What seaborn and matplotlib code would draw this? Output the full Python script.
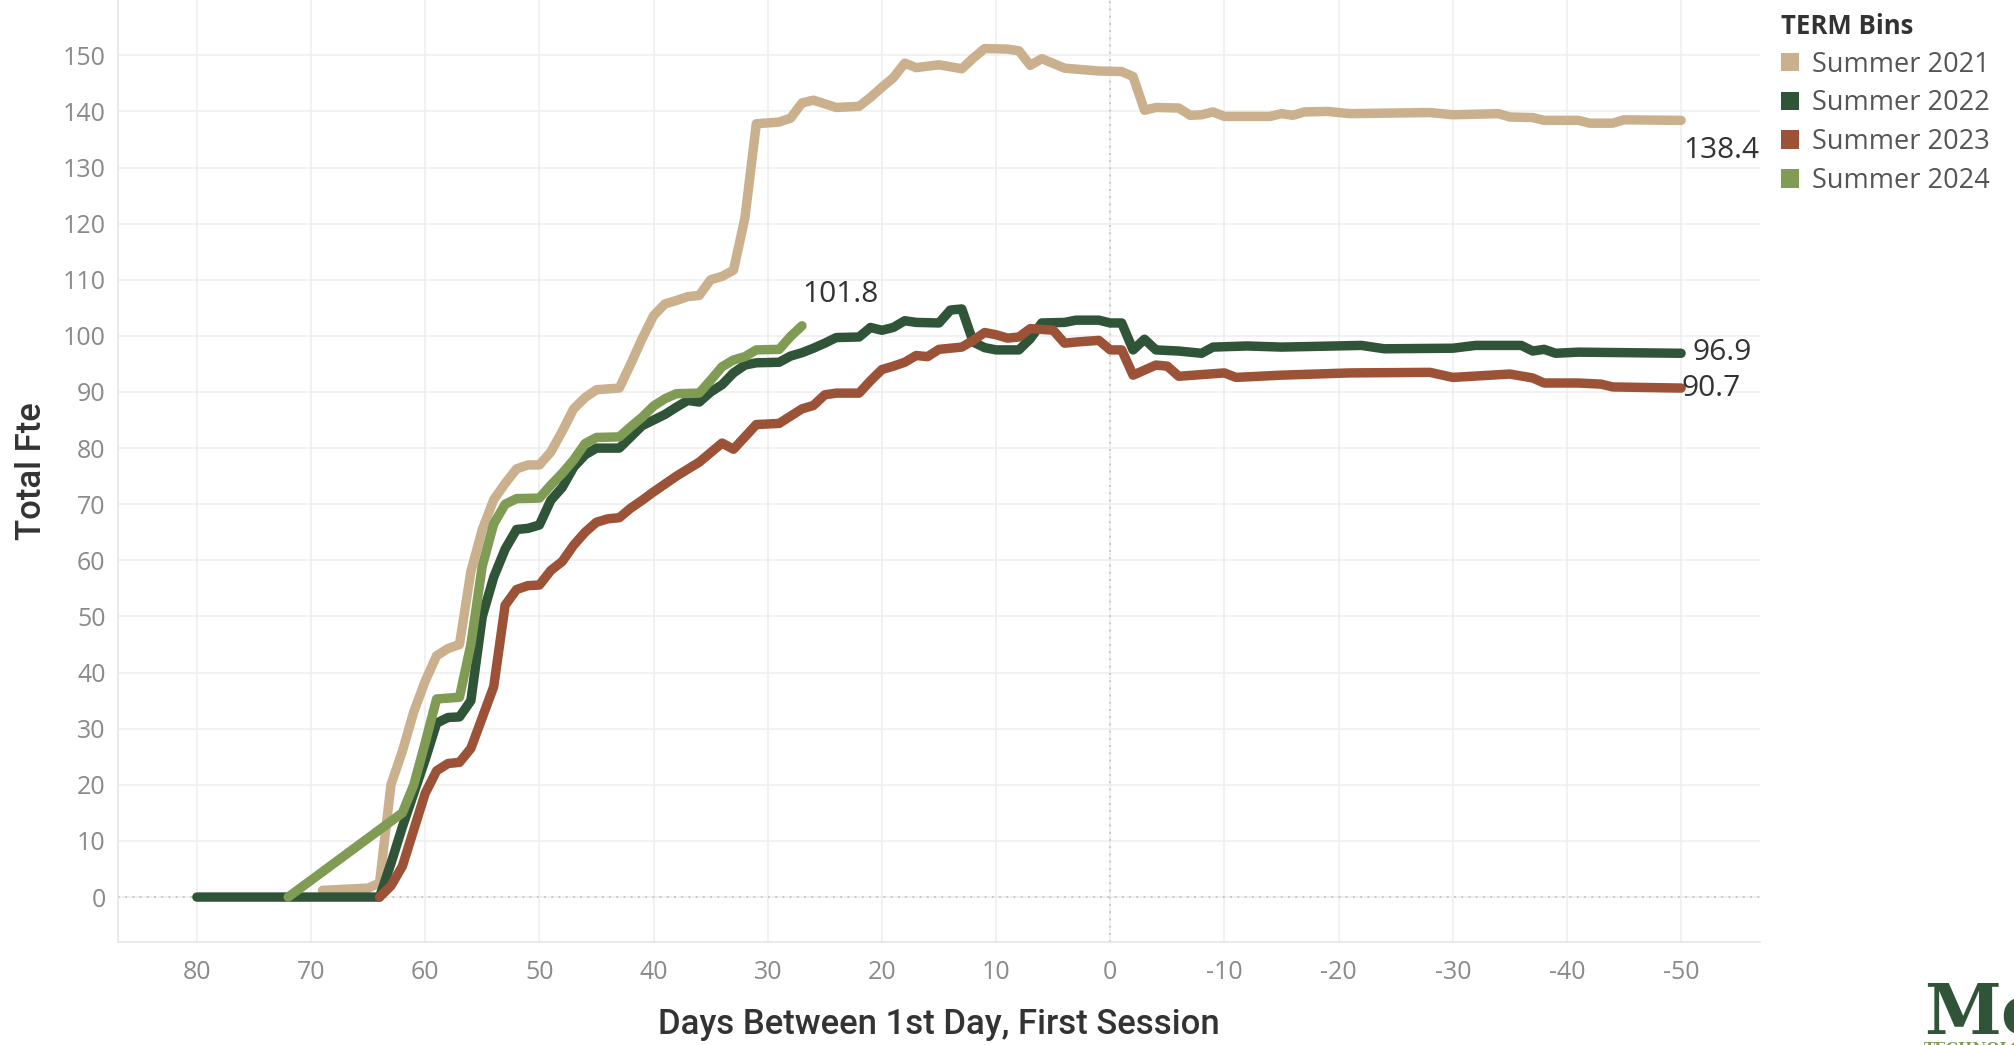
import numpy as np
import pandas as pd
import seaborn as sns
import matplotlib.pyplot as plt
from matplotlib.patches import Patch

# ---- data ----
terms = ['Summer 2021', 'Summer 2022', 'Summer 2023', 'Summer 2024']
colors = ['#cbb08e', '#2f5438', '#9c5236', '#7f9b54']

days_2021 = [69, 65, 64, 63, 62, 61, 60, 59, 58, 57, 56, 55, 54, 53, 52, 51, 50, 49, 48, 47,
             46, 45, 43, 42, 41, 40, 39, 38, 37, 36, 35, 34, 33, 32, 31, 29, 28, 27, 26, 24,
             22, 21, 20, 19, 18, 17, 15, 13, 12, 11, 9, 8, 7, 6, 4, 1, -1, -2, -3, -4,
             -6, -7, -8, -9, -10, -14, -15, -16, -17, -19, -21, -28, -30, -34, -35, -37, -38, -41,
             -42, -44, -45, -50]
fte_2021 = [1.2, 1.6, 2.5, 20.0, 26.0, 33.0, 38.5, 43.0, 44.3, 45.0, 58.0, 65.5, 70.8, 73.7, 76.3, 77.0, 77.0, 79.3, 83.0, 87.0,
            89.0, 90.4, 90.7, 95.0, 99.5, 103.6, 105.7, 106.3, 107.0, 107.2, 110.0, 110.6, 111.7, 121.0, 137.8, 138.1, 138.8, 141.5, 142.0, 140.7,
            140.9, 142.5, 144.3, 146.0, 148.6, 147.8, 148.3, 147.6, 149.5, 151.2, 151.1, 150.8, 148.2, 149.4, 147.7, 147.2, 147.1, 146.2, 140.2, 140.7,
            140.6, 139.3, 139.4, 139.9, 139.1, 139.1, 139.6, 139.3, 139.9, 140.0, 139.6, 139.8, 139.4, 139.6, 139.0, 138.9, 138.4, 138.4,
            137.9, 137.9, 138.5, 138.4]

days_2022 = [80, 64, 63, 62, 61, 60, 59, 58, 57, 56, 55, 54, 53, 52, 51, 50, 49, 48, 47, 46,
             45, 43, 42, 41, 40, 39, 38, 37, 36, 35, 34, 33, 32, 31, 29, 28, 27, 26, 25, 24,
             22, 21, 20, 19, 18, 17, 15, 14, 13, 12, 11, 10, 8, 7, 6, 4, 3, 1, 0, -1,
             -2, -3, -4, -6, -8, -9, -12, -15, -22, -24, -30, -32, -36, -37, -38, -39, -41, -50]
fte_2022 = [0.0, 0.0, 6.0, 12.5, 18.5, 24.5, 31.0, 32.0, 32.1, 35.0, 50.0, 57.0, 62.0, 65.5, 65.7, 66.3, 70.7, 73.0, 76.6, 78.8,
            80.0, 80.0, 82.0, 84.0, 85.0, 86.0, 87.3, 88.5, 88.2, 90.0, 91.3, 93.4, 94.8, 95.2, 95.3, 96.4, 97.0, 97.8, 98.7, 99.7,
            99.8, 101.5, 101.0, 101.5, 102.7, 102.4, 102.3, 104.6, 104.8, 98.9, 97.9, 97.5, 97.5, 99.5, 102.3, 102.4, 102.8, 102.8, 102.3, 102.3,
            97.5, 99.4, 97.5, 97.3, 96.9, 98.0, 98.2, 98.0, 98.3, 97.7, 97.8, 98.3, 98.3, 97.3, 97.6, 96.9, 97.1, 96.9]

days_2023 = [64, 63, 62, 61, 60, 59, 58, 57, 56, 55, 54, 53, 52, 51, 50, 49, 48, 47, 46, 45,
             44, 43, 42, 41, 40, 38, 36, 34, 33, 32, 31, 29, 28, 27, 26, 25, 24, 22, 21, 20,
             19, 18, 17, 16, 15, 13, 12, 11, 10, 9, 8, 7, 5, 4, 3, 1, 0, -1, -2, -3,
             -4, -5, -6, -10, -11, -15, -21, -28, -30, -35, -37, -38, -41, -43, -44, -50]
fte_2023 = [0.0, 2.0, 5.5, 12.0, 18.5, 22.5, 23.8, 24.0, 26.5, 32.0, 37.5, 52.0, 54.8, 55.5, 55.6, 58.2, 59.8, 62.7, 65.0, 66.8,
            67.4, 67.6, 69.3, 70.7, 72.2, 75.0, 77.5, 80.9, 79.8, 82.0, 84.2, 84.4, 85.7, 87.0, 87.6, 89.5, 89.8, 89.8, 92.0, 94.0,
            94.6, 95.3, 96.5, 96.3, 97.6, 98.0, 99.2, 100.6, 100.2, 99.6, 99.8, 101.3, 101.0, 98.7, 98.9, 99.2, 97.5, 97.5, 93.0, 93.9,
            94.8, 94.6, 92.8, 93.4, 92.6, 93.0, 93.4, 93.5, 92.6, 93.2, 92.5, 91.6, 91.6, 91.4, 90.9, 90.7]

days_2024 = [72, 62, 61, 60, 59, 57, 56, 55, 54, 53, 52, 50, 49, 48, 47, 46, 45, 43, 42, 41,
             40, 39, 38, 36, 35, 34, 33, 32, 31, 29, 28, 27]
fte_2024 = [0.0, 15.0, 20.0, 27.5, 35.3, 35.6, 45.0, 59.0, 66.5, 70.0, 71.0, 71.1, 73.4, 75.5, 77.9, 80.8, 81.9, 82.0, 83.8, 85.5,
            87.5, 88.8, 89.7, 89.8, 92.1, 94.5, 95.7, 96.3, 97.5, 97.6, 99.9, 101.8]

end_labels = ['138.4', '96.9', '90.7', '101.8']

frames = []
for term, d, v in zip(terms, [days_2021, days_2022, days_2023, days_2024],
                      [fte_2021, fte_2022, fte_2023, fte_2024]):
    frames.append(pd.DataFrame({'day': d, 'fte': v, 'term': term}))
data = pd.concat(frames, ignore_index=True)

sns.set_theme(style='white')
plt.rcParams['font.family'] = ['Open Sans', 'DejaVu Sans']
plt.rcParams['axes.unicode_minus'] = False

fig = plt.figure(figsize=(20.15, 10.45), dpi=100)
ax = fig.add_axes([0.0586, 0.0986, 0.8148, 0.9014])

# reference lines at zero
ax.axhline(0, color='#c4c4c4', ls=(0, (1, 3)), lw=1.3, zorder=1)
ax.axvline(0, color='#c4c4c4', ls=(0, (1, 3)), lw=1.3, zorder=1)

sns.lineplot(data=data, x='day', y='fte', hue='term', hue_order=terms, palette=colors,
             estimator=None, sort=True, linewidth=6.8, legend=False, ax=ax,
             solid_capstyle='round', solid_joinstyle='round', zorder=3)

ax.set_xlim(86.9, -56.9)
ax.set_ylim(-8, 159.85)
ax.set_xticks(np.arange(80, -51, -10))
ax.set_yticks(np.arange(0, 151, 10))
ax.grid(True, color='#ededed', lw=1.1, zorder=0)
ax.set_axisbelow(True)
ax.tick_params(axis='both', length=0, labelcolor='#8a8a8a', labelsize=18)
ax.tick_params(axis='y', pad=9)
ax.tick_params(axis='x', pad=13)
for side in ['top', 'right']:
    ax.spines[side].set_visible(False)
for side in ['left', 'bottom']:
    ax.spines[side].set_color('#e3e3e3')
    ax.spines[side].set_linewidth(1.1)

ax.set_xlabel('Days Between 1st Day, First Session', fontsize=25, color='#333333',
              family=['Roboto', 'DejaVu Sans'], weight='medium')
ax.set_ylabel('Total Fte', fontsize=25, color='#333333',
              family=['Roboto', 'DejaVu Sans'], weight='medium')
ax.xaxis.set_label_coords(0.5, -0.088)
ax.xaxis.label.set_va('center')
ax.yaxis.set_label_coords(-0.053, 0.5)
ax.yaxis.label.set_va('center')

# end-of-line value labels
lab_kw = dict(fontsize=21.5, color='#333333', va='center', ha='left')
ax.text(-50.2, 133.1, end_labels[0], **lab_kw)
ax.text(-51.0, 97.1, end_labels[1], **lab_kw)
ax.text(-50.0, 90.7, end_labels[2], **lab_kw)
ax.text(27.0, 107.3, end_labels[3], **lab_kw)

# legend
handles = [Patch(facecolor=c, edgecolor='none') for c in colors]
leg = fig.legend(handles, terms, loc='upper left', bbox_to_anchor=(1762 / 2015, 1.006),
                 frameon=False, title='TERM Bins', fontsize=19.5, title_fontsize=18.5,
                 handlelength=0.68, handleheight=0.68, handletextpad=0.45,
                 labelspacing=0.4, alignment='left', borderaxespad=0.3)
leg.get_title().set_weight('bold')
leg.get_title().set_color('#333333')
for t in leg.get_texts():
    t.set_color('#555555')

# corner logo, cut off by the figure edge as in the reference
fig.text(1924 / 2015, 11 / 1045, 'Mo', fontsize=50, weight='bold', color='#2f5438',
         family='DejaVu Serif', va='baseline', ha='left')
fig.text(1924 / 2015, 3 / 1045, 'TECHNOLOGY', fontsize=11, weight='bold', color='#7f9b54',
         family='DejaVu Serif', va='top', ha='left')

fig.savefig('out.png', dpi=100, facecolor='white')
